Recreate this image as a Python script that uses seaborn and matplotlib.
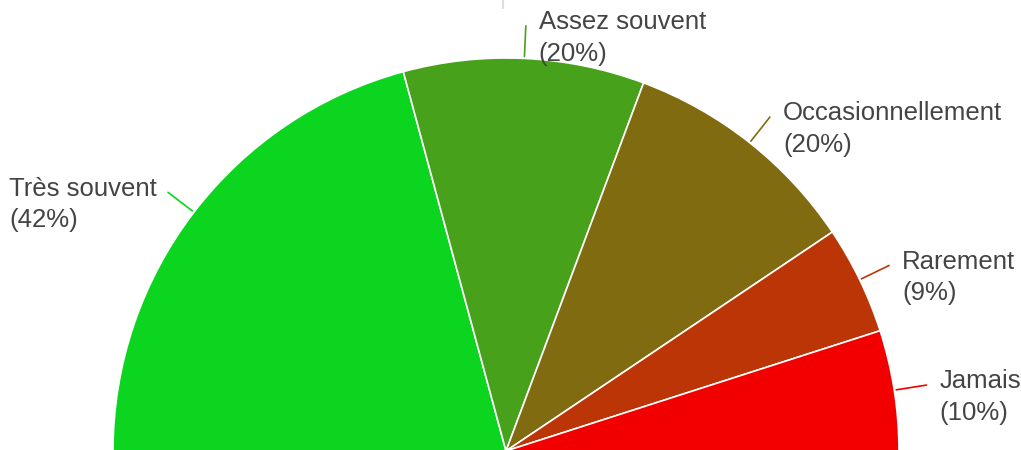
import numpy as np
import matplotlib
matplotlib.use("Agg")
import matplotlib.pyplot as plt
import seaborn as sns

# survey answers (half pie)
categories = ["Très souvent", "Assez souvent", "Occasionnellement", "Rarement", "Jamais"]
percentages = [42, 20, 20, 9, 10]
slice_colors = ["#0cd520", "#47a11a", "#806b10", "#bc3506", "#f20000"]

sns.set_theme(style="white")
plt.rcParams["font.family"] = ["Liberation Sans", "DejaVu Sans"]

fig = plt.figure(figsize=(10.21, 4.5), dpi=100)
ax = fig.add_axes([0, 0, 1, 1])

px = 1 / 393.0  # one pixel in data units (radius = 393 px)

# invisible filler takes the lower half so the visible slices span 180 degrees
values = percentages + [sum(percentages)]
colors = sns.color_palette(slice_colors) + [(1, 1, 1, 0)]
wedges, _ = ax.pie(values, colors=colors, startangle=180, counterclock=False,
                   radius=1.0, wedgeprops=dict(edgecolor="white", linewidth=1.2))
wedges[-1].set_visible(False)

for w, name, pct, col in zip(wedges[:-1], categories, percentages, slice_colors):
    ang = np.deg2rad((w.theta1 + w.theta2) / 2)
    x0, y0 = np.cos(ang), np.sin(ang)
    x1, y1 = 1.083 * x0, 1.083 * y0
    ax.plot([1.005 * x0, x1], [1.005 * y0, y1], color=col, lw=1.2)
    if x0 < 0:
        tx, ha = x1 - 11 * px, "right"
    else:
        tx, ha = x1 + 13 * px, "left"
    ax.text(tx, y1 - 12 * px, f"{name}\n({pct}%)", ha=ha, va="center",
            multialignment="left", fontsize=18.5, color="#444444", linespacing=1.4)

# small grey tick at the top edge
ax.plot([503 / 1021, 503 / 1021], [1.0, 1 - 8 / 450], color="#dddddd", lw=1.5,
        transform=ax.transAxes, clip_on=False)

ax.set_xlim(-506 * px, (1021 - 506) * px)
ax.set_ylim(1 * px, 451 * px)
ax.set_aspect("equal")
ax.axis("off")

fig.savefig("out.png", dpi=100, facecolor="white")
